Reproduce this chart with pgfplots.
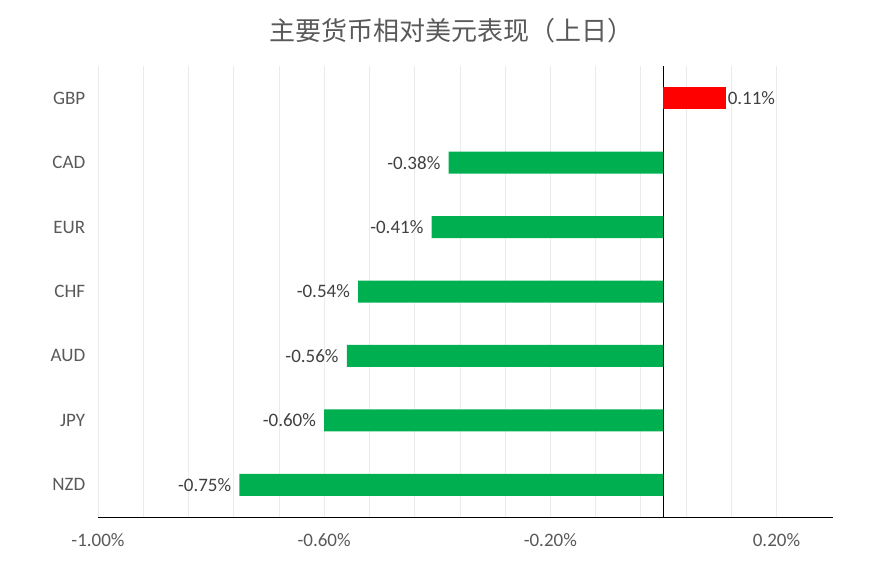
\documentclass[border=0pt]{standalone}
\usepackage{pgfplots}
\pgfplotsset{compat=1.18}
\usepackage{fontspec}
\setmainfont{Carlito}
\newfontfamily\cjk{Noto Sans CJK SC}
\definecolor{txtgray}{HTML}{595959}
\definecolor{lblgray}{HTML}{404040}
\definecolor{gridgray}{HTML}{EBEBEB}
\definecolor{upgreen}{HTML}{00B050}
\definecolor{upred}{HTML}{FF0000}

% y = 0 (NZD) at the bottom, 6 (GBP) at the top
\pgfplotstableread{
pos value
0 -0.75
1 -0.60
2 -0.56
3 -0.54
4 -0.41
5 -0.38
}\downdata
\pgfplotstableread{
pos value
6 0.11
}\updata

\begin{document}
\begin{tikzpicture}[x=1pt,y=1pt]
\begin{axis}[
    at={(0,0)}, anchor=south west,
    scale only axis,
    width=735pt, height=451pt,
    xbar, bar width=22pt, bar shift=0pt,
    xmin=-1.0, xmax=0.30,
    ymin=-0.5, ymax=6.5,
    xtick={-1.0,-0.6,-0.2,0.2},
    xticklabels={-1.00\%,-0.60\%,-0.20\%,0.20\%},
    minor x tick num=4,
    ytick={0,1,2,3,4,5,6},
    yticklabels={NZD,JPY,AUD,CHF,EUR,CAD,GBP},
    xmajorgrids, xminorgrids,
    major grid style={gridgray, line width=0.6pt},
    minor grid style={gridgray, line width=0.6pt},
    extra x ticks={0},
    extra x tick labels={},
    extra x tick style={grid=major, major grid style={black, line width=0.8pt}},
    axis x line*=bottom, axis y line*=left,
    x axis line style={black, line width=0.8pt, -},
    y axis line style={draw=none},
    tick style={draw=none},
    ticklabel style={font=\fontsize{19}{22}\selectfont, text=txtgray},
    xticklabel style={yshift=-13pt},
    yticklabel style={xshift=-5pt},
    nodes near coords={\pgfmathprintnumber[fixed, fixed zerofill, precision=2, assume math mode=true]{\pgfplotspointmeta}\%},
    nodes near coords style={font=\fontsize{19}{22}\selectfont, text=lblgray, inner sep=2pt},
    point meta=x,
]
\addplot[draw=none, fill=upgreen, every node near coord/.append style={xshift=-6pt}]
    table[x=value, y=pos] {\downdata};
\addplot[draw=none, fill=upred] table[x=value, y=pos] {\updata};
\end{axis}
\node[font=\cjk\fontsize{26}{30}\selectfont, text=txtgray] at (353,486) {主要货币相对美元表现（上日）};
\path[use as bounding box] (-98,-54) rectangle (785,517);
\end{tikzpicture}
\end{document}
